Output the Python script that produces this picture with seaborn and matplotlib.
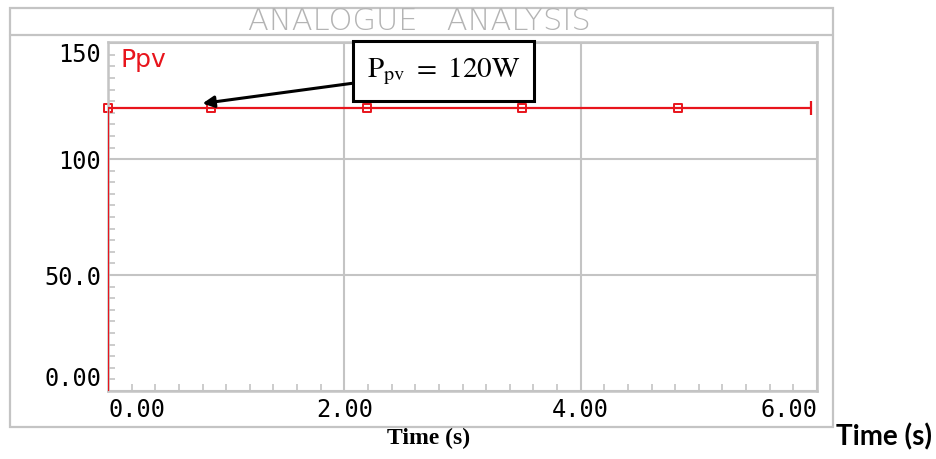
import matplotlib
matplotlib.use("Agg")
import matplotlib.pyplot as plt
import matplotlib.ticker as mticker
from matplotlib.patches import Rectangle
from matplotlib.lines import Line2D
import seaborn as sns
import pandas as pd

# Values
time_s = [0.0, 0.0, 0.87, 2.19, 3.50, 4.82, 5.95]
ppv_w = [0.0, 122.0, 122.0, 122.0, 122.0, 122.0, 122.0]
marker_time = [0.0, 0.87, 2.19, 3.50, 4.82]
marker_ppv = [122.0, 122.0, 122.0, 122.0, 122.0]
x_ticks = [0, 2, 4, 6]
x_labels = ["0.00", "2.00", "4.00", "6.00"]
y_ticks = [0, 50, 100, 150]
y_labels = ["0.00", "50.0", "100", "150"]

sns.set_theme(style="white")
plt.rcParams["mathtext.fontset"] = "stix"
grey = "#c4c4c4"
red = "#e8141c"

fig = plt.figure(figsize=(9.36, 4.59), dpi=100)
W, H = 936, 459
ax = fig.add_axes([108 / W, 1 - 391 / H, (817 - 108) / W, (391 - 42) / H])

df = pd.DataFrame({"t": time_s, "p": ppv_w})
sns.lineplot(data=df, x="t", y="p", sort=False, estimator=None, color=red,
             linewidth=1.6, ax=ax, zorder=3)
mk = pd.DataFrame({"t": marker_time, "p": marker_ppv})
sns.scatterplot(data=mk, x="t", y="p", marker="s", s=40, facecolor="white",
                edgecolor=red, linewidth=1.4, ax=ax, zorder=2, clip_on=False)
ax.plot([time_s[-1]], [ppv_w[-1]], marker="|", ms=10, mew=1.6, color=red, zorder=3)

ax.set_xlim(0, 5.98)
ax.set_ylim(0, 150.5)
ax.set_xlabel("")
ax.set_ylabel("")

ax.set_xticks(x_ticks)
ax.set_xticklabels(x_labels)
ax.set_yticks(y_ticks)
ax.set_yticklabels(y_labels)
ax.xaxis.set_minor_locator(mticker.MultipleLocator(0.2))
ax.yaxis.set_minor_locator(mticker.MultipleLocator(5))
ax.tick_params(which="both", direction="in", color=grey, width=1.2,
               bottom=True, left=True, top=False, right=False)
ax.tick_params(which="major", length=0, pad=5)
ax.tick_params(which="minor", length=5)

for lab in ax.get_xticklabels() + ax.get_yticklabels():
    lab.set_family("DejaVu Sans Mono")
    lab.set_fontsize(17)
    lab.set_color("black")
xl = ax.get_xticklabels()
xl[0].set_ha("left")
xl[-1].set_ha("right")
yl = ax.get_yticklabels()
yl[0].set_va("bottom")
yl[-1].set_va("top")

ax.grid(True, which="major", color=grey, linewidth=1.5)
for sp in ax.spines.values():
    sp.set_color(grey)
    sp.set_linewidth(1.8)

ax.text(0.11, 148, "Ppv", color=red, fontsize=18, va="top", ha="left",
        family="DejaVu Sans")

ax.annotate(r"$\mathrm{P_{pv}}\ =\ 120\mathrm{W}$", xy=(0.80, 124), xytext=(2.84, 138),
            ha="center", va="center", fontsize=21, color="black", zorder=5,
            bbox=dict(boxstyle="square,pad=0.48", fc="white", ec="black", lw=2.2),
            arrowprops=dict(arrowstyle="-|>", color="black", lw=2.2,
                            mutation_scale=17, shrinkA=0, shrinkB=0))

# outer frame and title band
fig.add_artist(Rectangle((10 / W, 1 - 427 / H), (833 - 10) / W, (427 - 8) / H,
                         transform=fig.transFigure, fill=False, ec=grey, lw=1.6))
fig.add_artist(Line2D([10 / W, 833 / W], [1 - 35 / H, 1 - 35 / H],
                      transform=fig.transFigure, color=grey, lw=1.6))
fig.text(419 / W, 1 - 21 / H, "ANALOGUE   ANALYSIS", ha="center", va="center",
         fontsize=22, color="#b4b4b4", family="DejaVu Sans", fontweight="light")

fig.text(429 / W, 1 - 438 / H, "Time (s)", ha="center", va="center",
         fontsize=17, fontweight="bold", family="Liberation Serif", color="black")
fig.text(884 / W, 1 - 437 / H, "Time (s)", ha="center", va="center",
         fontsize=20, fontweight="bold", family="Lato", color="black")

fig.savefig("out.png", dpi=100)
